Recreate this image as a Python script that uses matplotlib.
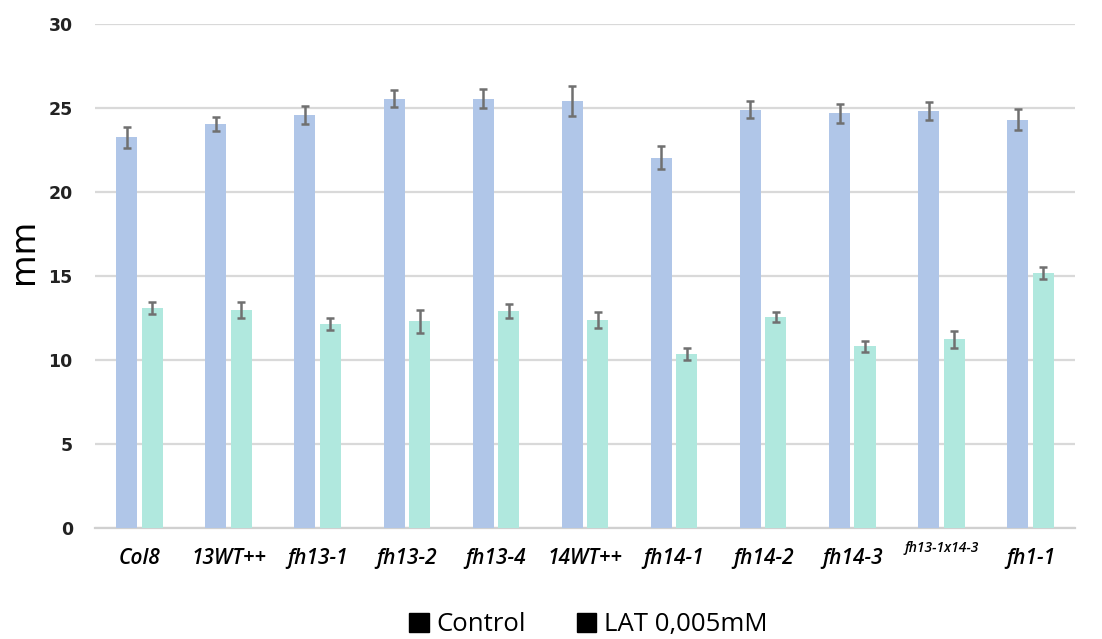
import matplotlib
matplotlib.use("Agg")
import matplotlib.pyplot as plt
from matplotlib.patches import Patch
import numpy as np

categories = ["Col8", "13WT++", "fh13-1", "fh13-2", "fh13-4", "14WT++",
              "fh14-1", "fh14-2", "fh14-3", "fh13-1x14-3", "fh1-1"]
control = [23.27, 24.05, 24.62, 25.57, 25.57, 25.43, 22.06, 24.92, 24.70, 24.84, 24.32]
control_err = [0.63, 0.43, 0.53, 0.50, 0.58, 0.88, 0.68, 0.50, 0.57, 0.52, 0.62]
lat = [13.11, 12.99, 12.18, 12.32, 12.93, 12.40, 10.39, 12.58, 10.83, 11.25, 15.18]
lat_err = [0.37, 0.50, 0.36, 0.69, 0.42, 0.50, 0.36, 0.28, 0.32, 0.49, 0.37]
yticks = [0, 5, 10, 15, 20, 25, 30]

fig = plt.figure(figsize=(11.02, 6.39), dpi=100)
ax = fig.add_axes([0.0862, 0.1732, 0.8893, 0.7888])

x = np.arange(len(categories))
w = 0.236
off = 0.143
err_kw = dict(ecolor="#707070", elinewidth=1.8, capsize=3, capthick=1.8)
ax.bar(x - off, control, w, color="#b0c6e8", yerr=control_err,
       error_kw=err_kw, zorder=3)
ax.bar(x + off, lat, w, color="#b0e8de", yerr=lat_err,
       error_kw=err_kw, zorder=3)

ax.set_xlim(-0.5, len(categories) - 0.5)
ax.set_ylim(0, 30)
ax.set_yticks(yticks)
ax.set_yticklabels([str(t) for t in yticks], fontsize=12.5, fontweight="bold",
                   color="#222222")
ax.yaxis.grid(True, color="#d9d9d9", linewidth=1.6, zorder=0)
ax.set_axisbelow(True)
for s in ["top", "right", "left"]:
    ax.spines[s].set_visible(False)
ax.spines["bottom"].set_color("#d0d0d0")
ax.spines["bottom"].set_linewidth(1.6)
ax.tick_params(axis="both", length=0)
ax.tick_params(axis="y", pad=16)

ax.set_xticks(x)
ax.set_xticklabels(categories, fontsize=15, fontstyle="italic",
                   fontfamily="Open Sans", fontweight="semibold")
for lbl in ax.get_xticklabels():
    if lbl.get_text() == "fh13-1x14-3":
        lbl.set_fontsize(10)
        lbl.set_y(0.014)
ax.tick_params(axis="x", pad=14)

ax.set_ylabel("mm", fontsize=24)
ax.yaxis.set_label_coords(-0.0565, 0.55)

handles = [Patch(facecolor="black", edgecolor="black"),
           Patch(facecolor="black", edgecolor="black")]
fig.legend(handles, ["Control", "LAT 0,005mM"], loc="center",
           bbox_to_anchor=(0.534, 0.022), ncol=2, frameon=False,
           handlelength=0.75, handleheight=0.75,
           handletextpad=0.3, columnspacing=2.0,
           prop={"family": "Open Sans", "size": 18.5})

fig.savefig("out.png", dpi=100)
